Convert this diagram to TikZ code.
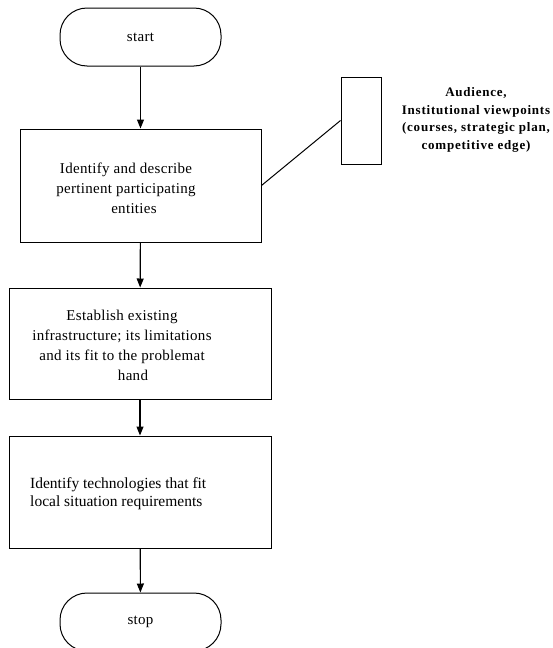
\documentclass[tikz,border=0pt]{standalone}
\usepackage{fontspec}
\setmainfont{Liberation Serif}
\usetikzlibrary{arrows.meta}
\begin{document}
\begin{tikzpicture}[x=1pt,y=-1pt,
  terminal/.style={draw,line width=1pt,rounded corners=27pt,minimum width=161pt,minimum height=58pt,inner sep=0pt,font=\fontsize{15}{18}\selectfont\addfontfeature{LetterSpace=2}},
  stepbox/.style={draw,line width=1pt,inner sep=0pt},
  steptext/.style={font=\fontsize{15}{20}\selectfont\addfontfeature{LetterSpace=2},align=center,inner sep=0pt},
  flow/.style={-{Triangle[length=9pt,width=7pt]},line width=1.1pt}]
\useasboundingbox (0,0) rectangle (553,648);
\node[terminal] (start) at (140.5,37) {start};
\node[stepbox,minimum width=241pt,minimum height=113pt] (ident) at (140.5,185.5) {};
\node[steptext] (identtext) at (126,188) {Identify and describe\\pertinent participating\\\hspace*{16pt}entities};
\node[stepbox,minimum width=262pt,minimum height=111pt] (infra) at (140,343.5) {};
\node[steptext] (infratext) at (122,345) {Establish existing\\infrastructure; its limitations\\and its fit to the problemat\\\hspace*{22pt}hand};
\node[stepbox,minimum width=262pt,minimum height=112pt] (tech) at (140,492) {};
\node[steptext,align=left,anchor=west,font=\fontsize{15.5}{18}\selectfont] (techtext) at (30,494) {Identify technologies that fit\\local situation requirements};
\node[terminal] (stop) at (140.5,622) {stop};
\node[stepbox,minimum width=40pt,minimum height=87pt] (src) at (361,120.5) {};
\node[font=\bfseries\fontsize{13}{17.5}\selectfont\addfontfeature{LetterSpace=6},align=center,inner sep=0pt] (srctext) at (476,120) {Audience,\\Institutional viewpoints\\(courses, strategic plan,\\competitive edge)};
\draw[flow] (start) -- (ident);
\draw[flow] (ident) -- (infra);
\draw[flow] (infra) -- (tech);
\draw[flow] (tech) -- (stop);
\draw[line width=1pt] (ident.east) -- (src.west);
\end{tikzpicture}
\end{document}
